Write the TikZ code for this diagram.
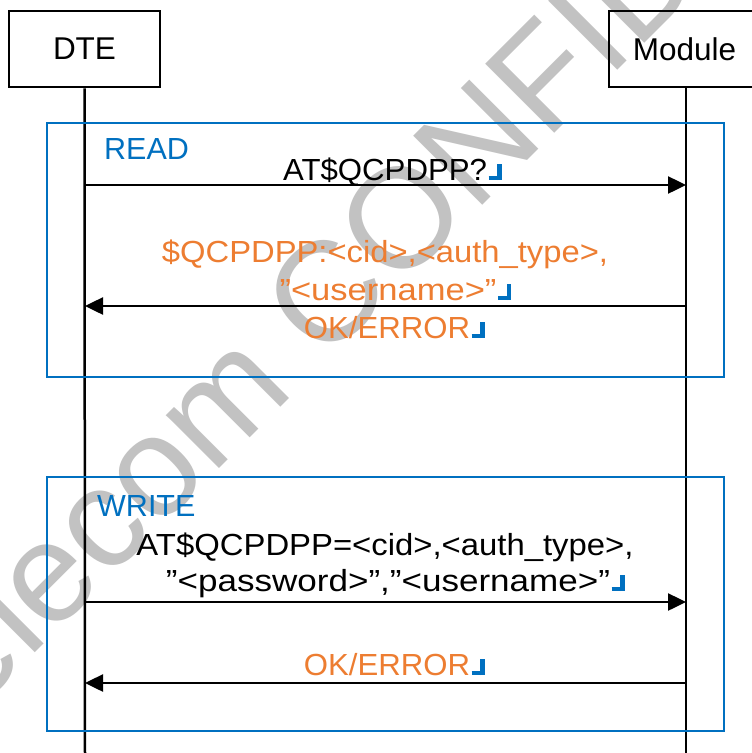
\documentclass[tikz,border=0pt]{standalone}
\usepackage{fontspec}
\usepackage{graphicx}
\setmainfont{Liberation Sans}
\usetikzlibrary{arrows.meta}

\definecolor{frameblue}{RGB}{0,112,192}
\definecolor{replyorange}{RGB}{237,125,49}
\definecolor{wmgray}{RGB}{194,194,194}

% blue carriage-return mark that trails a command line
\newcommand{\crmark}{\rlap{\kern1.5pt\textcolor{frameblue}{\rule{8.5pt}{4.5pt}\rule{4.5pt}{16pt}}}}
% set a line of text to a given width, keeping its height
\newcommand{\fitto}[2]{\resizebox{#1}{\height}{#2}}

\begin{document}
\begin{tikzpicture}[x=1pt, y=-1pt,
    actor/.style={draw, line width=2.5pt, minimum width=151pt, minimum height=76pt,
                  inner sep=0pt, font=\fontsize{31.5}{36}\selectfont},
    lifeline/.style={line width=2.5pt},
    frame/.style={draw=frameblue, line width=2.6pt, minimum width=677pt,
                  minimum height=254pt, inner sep=0pt},
    framelbl/.style={text=frameblue, inner sep=0pt, anchor=base west,
                  font=\fontsize{30.5}{36}\selectfont},
    cmd/.style={inner sep=0pt, anchor=base, font=\fontsize{30.5}{36}\selectfont},
    reply/.style={cmd, text=replyorange},
    msg/.style={line width=2.5pt, -{Triangle[length=18pt, width=17pt]}},
    watermark/.style={text=wmgray, inner sep=0pt, anchor=base west, rotate=45,
                  font=\fontsize{142}{142}\selectfont}]

\useasboundingbox (0,0) rectangle (752,753);
\clip (0,0) rectangle (752,753);
\fill[white] (0,0) rectangle (752,753);

% watermark behind everything
\node[watermark] (wm) at (-78,766) {Telecom CONFIDENTIAL};

% participants
\node[actor] (dte) at (84.5,49) {DTE};
\node[actor] (mod) at (684.5,49) {Module};
\coordinate (dteEnd) at (85,753);
\coordinate (modEnd) at (686,753);
\draw[lifeline] (dte.south) -- (dteEnd);
\draw[lifeline] (mod.south -| modEnd) -- (modEnd);

% READ block
\node[frame] (readbox) at (385.5,250) {};
\node[framelbl] (readlbl) at (104,159) {READ};
\coordinate (r1a) at (85,185);  \coordinate (r1b) at (686,185);
\coordinate (r2a) at (686,306); \coordinate (r2b) at (85,306);
\draw[msg] (r1a) -- (r1b);
\draw[msg] (r2a) -- (r2b);
\node[cmd] (rq) at (385,180) {\fitto{204pt}{AT\$QCPDPP?}\crmark};
\node[reply] (rr1) at (385,262) {\fitto{446pt}{\$QCPDPP:<cid>,<auth\_type>,}};
\node[reply] (rr2) at (388,300) {\fitto{217pt}{”<username>”}\crmark};
\node[reply] (rr3) at (387,338) {\fitto{166pt}{OK/ERROR}\crmark};

% WRITE block
\node[frame] (writebox) at (385.5,604) {};
\node[framelbl] (writelbl) at (97,516) {WRITE};
\coordinate (w1a) at (85,602);  \coordinate (w1b) at (686,602);
\coordinate (w2a) at (686,683); \coordinate (w2b) at (85,683);
\draw[msg] (w1a) -- (w1b);
\draw[msg] (w2a) -- (w2b);
\node[cmd] (wq1) at (385,555) {\fitto{497pt}{AT\$QCPDPP=<cid>,<auth\_type>,}};
\node[cmd] (wq2) at (388,591) {\fitto{444pt}{”<password>”,”<username>”}\crmark};
\node[reply] (wr) at (387,675) {\fitto{166pt}{OK/ERROR}\crmark};
\end{tikzpicture}
\end{document}
